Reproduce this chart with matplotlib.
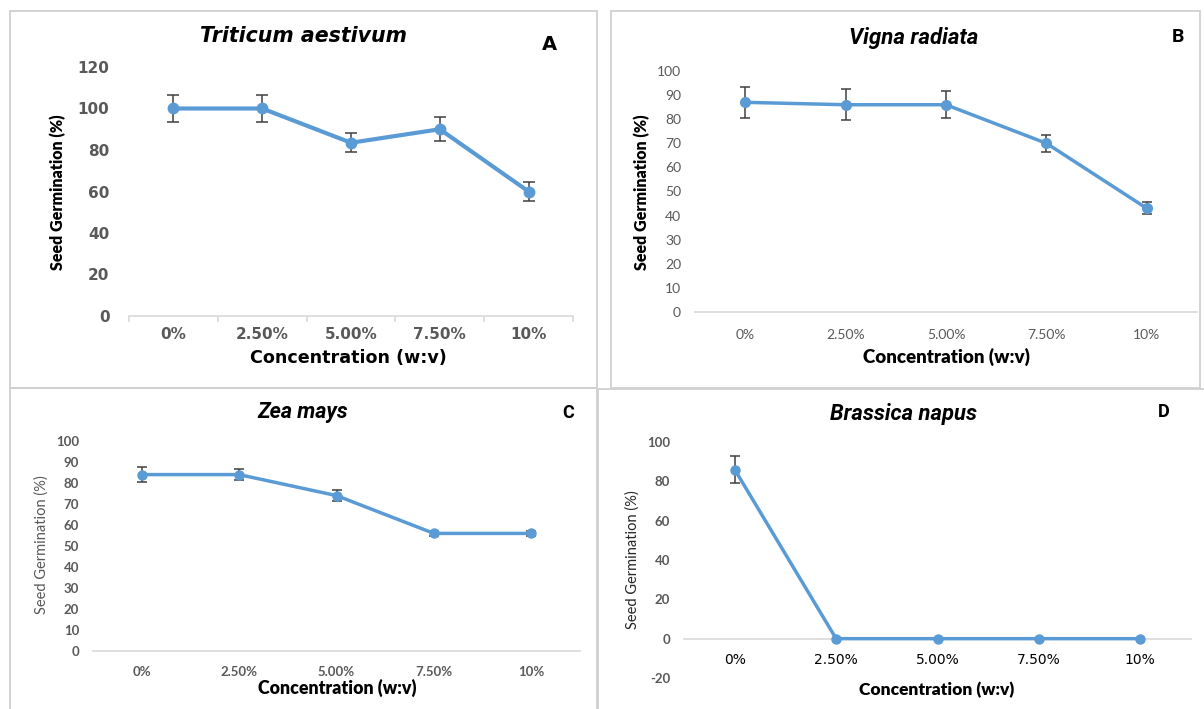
import matplotlib
matplotlib.use("Agg")
import matplotlib.pyplot as plt
import numpy as np
from matplotlib.patches import Rectangle

plt.rcParams["axes.unicode_minus"] = False

# ---------------- data ----------------
categories = ["0%", "2.50%", "5.00%", "7.50%", "10%"]

wheat_vals = [100, 100, 83.5, 90, 60]
wheat_err = [6.5, 6.5, 4.7, 5.7, 4.6]

vigna_vals = [87, 86, 86, 70, 43]
vigna_err = [6.5, 6.5, 5.5, 3.5, 2.5]

zea_vals = [84, 84, 74, 56, 56]
zea_err = [3.5, 2.8, 2.5, 1.0, 1.0]

brassica_vals = [86, 0, 0, 0, 0]
brassica_err = [6.8, 0, 0, 0, 0]

titles = ["Triticum aestivum", "Vigna radiata", "Zea mays", "Brassica napus"]
letters = ["A", "B", "C", "D"]
xlabel = "Concentration (w:v)"
ylabel = "Seed Germination (%)"

# ---------------- layout ----------------
W, H = 1204, 709
fig = plt.figure(figsize=(W / 100, H / 100), dpi=100)
fig.patch.set_facecolor("white")

LINE = "#5B9BD5"
GREY_TXT = "#595959"
AXIS_GREY = "#D9D9D9"
TITLEF = "Roboto"
LABF = "Lato"


def fx(x):
    return x / W


def fy(y):
    return 1 - y / H


def axes_px(left, right, top, bottom):
    return fig.add_axes([fx(left), fy(bottom), fx(right - left), (bottom - top) / H])


# panel borders
for (x0, y0, x1, y1) in [(10, 11, 597, 388), (611, 11, 1200, 388),
                         (10, 388, 597, 712), (598, 389, 1206, 712)]:
    fig.patches.append(Rectangle((fx(x0), fy(y1)), fx(x1 - x0), (y1 - y0) / H,
                                 transform=fig.transFigure, fill=False,
                                 edgecolor="#D0D0D0", lw=1.3, zorder=0))


def draw(ax, vals, err, ylim, yticks, lw, ms, cap, tickfont, tickweight, ticksize,
         pad_y, pad_x):
    x = np.arange(len(categories))
    v = np.asarray(vals, dtype=float)
    e = np.asarray(err, dtype=float)
    m = e > 0
    ax.errorbar(x[m], v[m], yerr=e[m], fmt="none", ecolor="#404040",
                elinewidth=1.1, capsize=cap, capthick=1.1, zorder=3)
    ax.plot(x, v, color=LINE, lw=lw, marker="o", ms=ms, mfc=LINE, mec=LINE,
            zorder=4, solid_capstyle="round")
    ax.set_xlim(-0.5, len(categories) - 0.5)
    ax.set_ylim(*ylim)
    ax.set_yticks(yticks)
    ax.set_xticks(x)
    ax.set_xticklabels(categories)
    for s in ["top", "right", "left"]:
        ax.spines[s].set_visible(False)
    ax.spines["bottom"].set_color(AXIS_GREY)
    ax.spines["bottom"].set_linewidth(1.2)
    ax.tick_params(axis="y", length=0, pad=pad_y)
    ax.tick_params(axis="x", which="major", length=0, pad=pad_x)
    for lab in ax.get_xticklabels() + ax.get_yticklabels():
        lab.set_fontfamily(tickfont)
        lab.set_fontweight(tickweight)
        lab.set_fontsize(ticksize)
        lab.set_color(GREY_TXT)
    ax.set_facecolor("none")


# ---- Panel A ----
axA = axes_px(129, 573, 67, 316)
draw(axA, wheat_vals, wheat_err, (0, 120), range(0, 121, 20), 3.0, 7.5, 4,
     "DejaVu Sans", "bold", 11, 14, 8)
axA.set_xticks(np.arange(-0.5, 5, 1), minor=True)
axA.tick_params(axis="x", which="minor", length=4, width=1.2, color=AXIS_GREY,
                direction="out")
fig.text(fx(303), fy(36), titles[0], ha="center", va="center",
         fontfamily="DejaVu Sans", fontweight="bold", fontstyle="italic", fontsize=14.8)
fig.text(fx(549), fy(44), letters[0], ha="center", va="center",
         fontfamily="DejaVu Sans", fontweight="bold", fontsize=14)
fig.text(fx(58), fy(192), ylabel, ha="center", va="center", rotation=90,
         fontfamily=LABF, fontweight="heavy", fontsize=11.5, color="black")
fig.text(fx(348), fy(358), xlabel, ha="center", va="center",
         fontfamily="DejaVu Sans", fontweight="bold", fontsize=12.6, color="black")

# ---- Panel B ----
axB = axes_px(695, 1197, 71, 312)
draw(axB, vigna_vals, vigna_err, (0, 100), range(0, 101, 10), 2.5, 7, 3.5,
     "Lato", "normal", 10, 10, 12)
fig.text(fx(914), fy(38), titles[1], ha="center", va="center",
         fontfamily=TITLEF, fontweight="bold", fontstyle="italic", fontsize=16)
fig.text(fx(1178), fy(37), letters[1], ha="center", va="center",
         fontfamily=TITLEF, fontweight="bold", fontsize=14)
fig.text(fx(642), fy(192), ylabel, ha="center", va="center", rotation=90,
         fontfamily=LABF, fontweight="heavy", fontsize=11.5, color="black")
fig.text(fx(946), fy(357), xlabel, ha="center", va="center",
         fontfamily=LABF, fontweight="heavy", fontsize=13.5, color="black")

# ---- Panel C ----
axC = axes_px(93, 580, 441, 651)
draw(axC, zea_vals, zea_err, (0, 100), range(0, 101, 10), 2.5, 6.5, 3.5,
     "Lato", "bold", 9.5, 10, 11)
fig.text(fx(303), fy(412), titles[2], ha="center", va="center",
         fontfamily=TITLEF, fontweight="bold", fontstyle="italic", fontsize=15.5)
fig.text(fx(568), fy(413), letters[2], ha="center", va="center",
         fontfamily=TITLEF, fontweight="bold", fontsize=13)
fig.text(fx(42), fy(545), ylabel, ha="center", va="center", rotation=90,
         fontfamily="Lato", fontweight="normal", fontsize=10.5, color=GREY_TXT)
fig.text(fx(337), fy(688), xlabel, ha="center", va="center",
         fontfamily=LABF, fontweight="heavy", fontsize=12.8, color="black")

# ---- Panel D ----
axD = axes_px(684, 1191, 442, 678)
draw(axD, brassica_vals, brassica_err, (-20, 100), range(-20, 101, 20), 2.5, 6.5, 3.5,
     "Lato", "bold", 9.5, 10, 10)
axD.spines["bottom"].set_position(("data", 0))
fig.text(fx(904), fy(414), titles[3], ha="center", va="center",
         fontfamily=TITLEF, fontweight="bold", fontstyle="italic", fontsize=15.8)
fig.text(fx(1164), fy(412), letters[3], ha="center", va="center",
         fontfamily=TITLEF, fontweight="bold", fontsize=13)
fig.text(fx(633), fy(560), ylabel, ha="center", va="center", rotation=90,
         fontfamily="Lato", fontweight="normal", fontsize=10.5, color="#262626")
fig.text(fx(937), fy(690), xlabel, ha="center", va="center",
         fontfamily=LABF, fontweight="heavy", fontsize=12.5, color="black")

fig.savefig("out.png", dpi=100)
